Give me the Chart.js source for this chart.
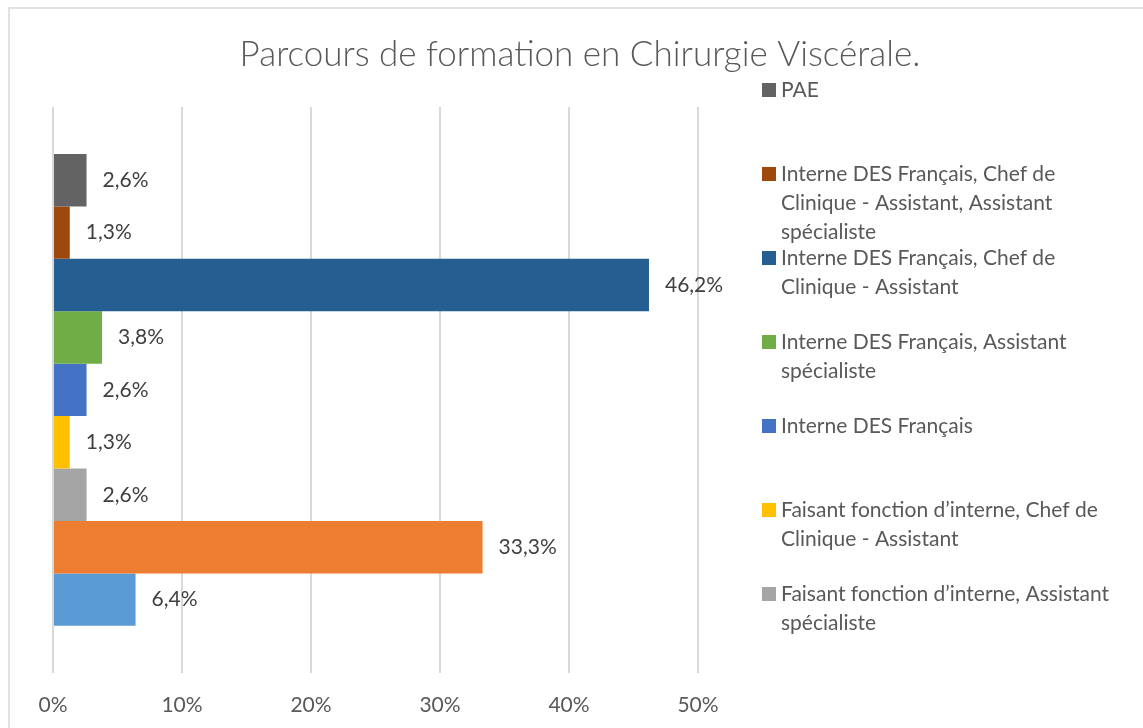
<!DOCTYPE html>
<html lang="fr">
<head>
<meta charset="utf-8">
<title>Parcours de formation en Chirurgie Viscérale</title>
<script src="https://cdn.jsdelivr.net/npm/chart.js@4.4.1/dist/chart.umd.min.js"></script>
<style>
  html, body { margin: 0; padding: 0; background: #fff; overflow: hidden; }
  /* un peu plus haut que la fenêtre : le bas du cadre est coupé */
  #conteneur { width: 1143px; height: 738px; }
</style>
</head>
<body>
<div id="conteneur"><canvas id="graphique"></canvas></div>
<script>
// Séries, du haut vers le bas du graphique (\n = retour à la ligne dans la légende)
const series = [
  'PAE',
  'Interne DES Français, Chef de\nClinique - Assistant, Assistant\nspécialiste',
  'Interne DES Français, Chef de\nClinique - Assistant',
  'Interne DES Français, Assistant\nspécialiste',
  'Interne DES Français',
  'Faisant fonction d’interne, Chef de\nClinique - Assistant',
  'Faisant fonction d’interne, Assistant\nspécialiste',
  'Faisant fonction d’interne',
  'Autre',
]
const valeurs = [2.6, 1.3, 46.2, 3.8, 2.6, 1.3, 2.6, 33.3, 6.4]
const couleurs = ['#636363', '#9e480e', '#255e91', '#70ad47', '#4472c4', '#ffc000', '#a5a5a5', '#ed7d31', '#5b9bd5']
const graduations = [0, 10, 20, 30, 40, 50]
const titre = 'Parcours de formation en Chirurgie Viscérale.'

// la légende ne montre que les 7 premières entrées (le reste déborde du cadre)
const legendeVisible = 7

const police = 'Lato, "Open Sans", sans-serif'
const gris = '#595959'

function formatPct(v) {
  return v.toFixed(1).replace('.', ',') + '%'
}

// fond blanc + cadre du graphique
const cadre = {
  id: 'cadre',
  beforeDraw(chart) {
    const ctx = chart.ctx
    ctx.save()
    ctx.fillStyle = '#fff'
    ctx.fillRect(0, 0, chart.width, chart.height)
    ctx.strokeStyle = '#d9d9d9'
    ctx.lineWidth = 1.5
    ctx.beginPath()
    ctx.moveTo(9, chart.height)
    ctx.lineTo(9, 8)
    ctx.lineTo(chart.width, 8)
    ctx.stroke()
    ctx.restore()
  },
}

// titre centré sur toute la largeur
const titrePlugin = {
  id: 'titrePlugin',
  afterDraw(chart) {
    const ctx = chart.ctx
    ctx.save()
    ctx.font = '300 35px ' + police
    ctx.fillStyle = gris
    ctx.textAlign = 'center'
    ctx.textBaseline = 'middle'
    ctx.fillText(titre, 580, 55)
    ctx.restore()
  },
}

// valeurs affichées au bout des barres
const etiquettes = {
  id: 'etiquettes',
  afterDatasetsDraw(chart) {
    const ctx = chart.ctx
    ctx.save()
    ctx.font = '21px ' + police
    ctx.fillStyle = '#404040'
    ctx.textBaseline = 'middle'
    chart.data.datasets.forEach((ds, i) => {
      const barre = chart.getDatasetMeta(i).data[0]
      ctx.fillText(formatPct(ds.data[0]), barre.x + 16, barre.y)
    })
    ctx.restore()
  },
}

// légende à droite, libellés sur plusieurs lignes
const legende = {
  id: 'legende',
  afterDraw(chart) {
    const ctx = chart.ctx
    ctx.save()
    ctx.font = '21px ' + police
    ctx.textBaseline = 'middle'
    chart.data.datasets.slice(0, legendeVisible).forEach((ds, i) => {
      const y = 90 + i * 84
      ctx.fillStyle = ds.backgroundColor
      ctx.fillRect(762, y - 7, 14, 14)
      ctx.fillStyle = gris
      ds.label.split('\n').forEach((ligne, k) => {
        ctx.fillText(ligne, 781, y + k * 29)
      })
    })
    ctx.restore()
  },
}

const ctx = document.getElementById('graphique').getContext('2d')
const graphique = new Chart(ctx, {
  type: 'bar',
  data: {
    labels: [''],
    datasets: series.map((nom, i) => ({
      label: nom,
      data: [valeurs[i]],
      backgroundColor: couleurs[i],
      borderWidth: 0,
      barPercentage: 1,
      categoryPercentage: 0.834,
    })),
  },
  options: {
    indexAxis: 'y',
    responsive: true,
    maintainAspectRatio: false,
    animation: false,
    layout: {
      padding: { left: 53, right: 445, top: 107, bottom: 0 },
    },
    plugins: {
      legend: { display: false },
      title: { display: false },
      tooltip: { enabled: false },
    },
    scales: {
      x: {
        min: graduations[0],
        max: graduations[graduations.length - 1],
        afterBuildTicks(axe) {
          axe.ticks = graduations.map((v) => ({ value: v }))
        },
        grid: {
          color: '#d9d9d9',
          lineWidth: 2,
          drawTicks: false,
        },
        border: { display: false },
        ticks: {
          padding: 20,
          color: gris,
          font: { family: police, size: 21 },
          callback: (v) => v + '%',
        },
      },
      y: {
        display: false,
      },
    },
  },
  plugins: [cadre, titrePlugin, etiquettes, legende],
})
</script>
</body>
</html>
